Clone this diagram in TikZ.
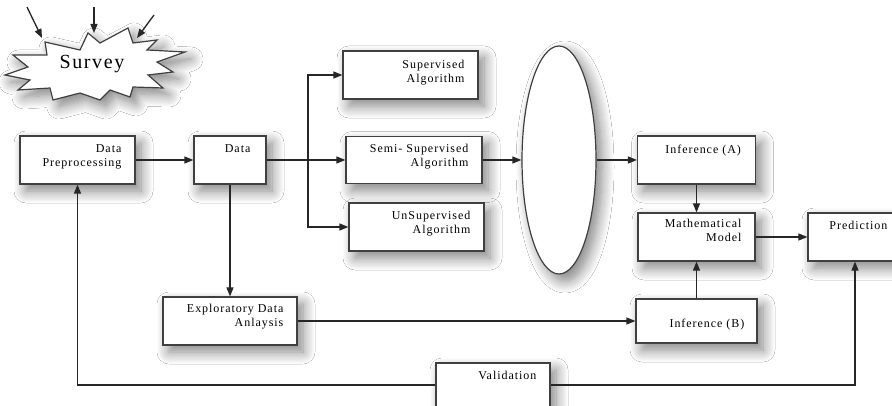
\documentclass[tikz,border=0pt]{standalone}
\usepackage{fontspec}
\setmainfont{Liberation Serif}[LetterSpace=8]
\usetikzlibrary{arrows.meta,shadows.blur,shapes.geometric}
\begin{document}
\begin{tikzpicture}[x=1pt,y=-1pt,
  shd/.style={blur shadow={shadow xshift=6pt, shadow yshift=-7pt, shadow blur radius=12pt, shadow opacity=50, shadow blur steps=12}},
  box/.style={draw=black!75, line width=1.2pt, fill=white, inner sep=0pt, shd},
  lbl/.style={font=\fontsize{12}{14}\selectfont, align=right, anchor=north east, inner sep=0pt},
  arr/.style={draw=black!85, line width=1.3pt, -{Triangle[length=9pt,width=7pt]}},
  ln/.style={draw=black!85, line width=1.3pt}]
\useasboundingbox (0,0) rectangle (892,406);
\clip (0,0) rectangle (892,406);
\fill[white] (0,0) rectangle (892,406);

% Survey starburst
\draw[box] (45,42) -- (80,50) -- (88,33) -- (100,43) -- (128,28) -- (133,43) -- (157,40) -- (147,50) -- (185,52) -- (157,62) -- (173,72) -- (148,75) -- (163,88) -- (133,87) -- (130,97) -- (110,90) -- (100,100) -- (80,93) -- (53,100) -- (50,88) -- (18,90) -- (30,80) -- (5,75) -- (28,67) -- (13,55) -- (47,55) -- cycle;
\node[font=\fontsize{20}{22}\selectfont, inner sep=0pt] (survey) at (92,64) {Survey};
\coordinate (s1a) at (27,7);   \coordinate (s1b) at (42,38);
\coordinate (s2a) at (94,7);   \coordinate (s2b) at (94,33);
\coordinate (s3a) at (154,15); \coordinate (s3b) at (137,38);

% boxes
\node[box, minimum width=115pt, minimum height=48pt] (dp) at (77.5,160) {};
\node[box, minimum width=72pt, minimum height=48pt] (data) at (230,160) {};
\node[box, minimum width=135pt, minimum height=48pt] (sup) at (410.5,75) {};
\node[box, minimum width=136pt, minimum height=47pt] (semi) at (414,160) {};
\node[box, minimum width=135pt, minimum height=48pt] (unsup) at (416.5,227) {};
\node[box, ellipse, minimum width=74pt, minimum height=228pt] (ell) at (559,160) {};
\node[box, minimum width=118pt, minimum height=48pt] (infa) at (696.5,160) {};
\node[box, minimum width=117pt, minimum height=48pt] (mm) at (696.5,237) {};
\node[box, minimum width=94pt, minimum height=48pt] (pred) at (855,237) {};
\node[box, minimum width=121pt, minimum height=44pt] (infb) at (696.5,321) {};
\node[box, minimum width=134pt, minimum height=48pt] (eda) at (230,321) {};
\node[box, minimum width=114pt, minimum height=44pt] (val) at (493,385) {};

% labels
\node[lbl] (tdp) at ([shift={(-14,9)}]dp.north east) {Data\\Preprocessing};
\node[lbl] (tdata) at ([shift={(-16,9)}]data.north east) {Data};
\node[lbl] (tsup) at ([shift={(-14,10)}]sup.north east) {Supervised\\Algorithm};
\node[lbl] (tsemi) at ([shift={(-14,8)}]semi.north east) {Semi- Supervised\\Algorithm};
\node[lbl] (tunsup) at ([shift={(-14,9)}]unsup.north east) {UnSupervised\\Algorithm};
\node[lbl] (tinfa) at ([shift={(-15,9)}]infa.north east) {Inference (A)};
\node[lbl] (tmm) at ([shift={(-14,7)}]mm.north east) {Mathematical\\Model};
\node[lbl] (tpred) at ([shift={(-15,9)}]pred.north east) {Prediction};
\node[lbl] (tinfb) at ([shift={(-13,20)}]infb.north east) {Inference (B)};
\node[lbl] (teda) at ([shift={(-14,8)}]eda.north east) {Exploratory Data\\Anlaysis};
\node[lbl] (tval) at ([shift={(-14,9)}]val.north east) {Validation};

% connectors
\draw[arr] (s1a) -- (s1b);
\draw[arr] (s2a) -- (s2b);
\draw[arr] (s3a) -- (s3b);
\coordinate (j) at (308,160);
\draw[arr] (dp.east) -- (data.west);
\draw[ln] (data.east) -- (j);
\draw[arr] (j) |- (sup.west);
\draw[arr] (j) -- (semi.west);
\draw[arr] (j) |- (unsup.west);
\draw[arr] (semi.east) -- (ell.west);
\draw[arr] (ell.east) -- (infa.west);
\draw[arr] (infa.south) -- (mm.north);
\draw[arr] (infb.north) -- (mm.south);
\draw[arr] (mm.east) -- (pred.west);
\draw[arr] (data.south) -- (eda.north);
\draw[arr] (eda.east) -- (infb.west);
\draw[arr] (val.west) -| (dp.south);
\draw[arr] (val.east) -| (pred.south);
\end{tikzpicture}
\end{document}
